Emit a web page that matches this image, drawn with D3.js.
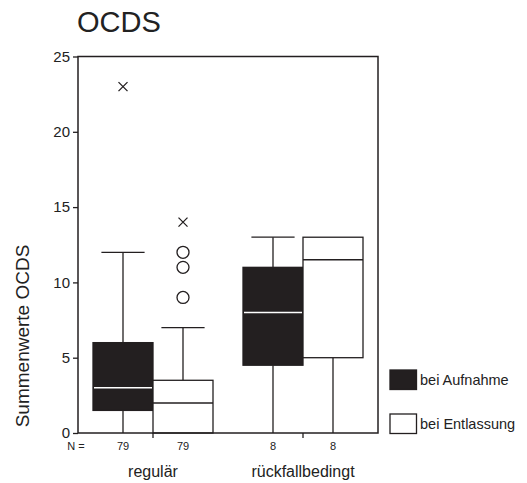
<!DOCTYPE html>
<html>
<head>
<meta charset="utf-8">
<script src="https://cdn.jsdelivr.net/npm/d3@7"></script>
<style>
body { margin: 0; background: #fff; }
text { font-family: "Liberation Sans", Arial, sans-serif; fill: #222; }
</style>
</head>
<body>
<script>
// data
var categories = ["regulär", "rückfallbedingt"];
var series = ["bei Aufnahme", "bei Entlassung"];
var nCounts = [[79, 79], [8, 8]];
// [lower whisker, q1, median, q3, upper whisker] per category
var aufnahmeStats = [[0, 1.5, 3, 6, 12], [0, 4.5, 8, 11, 13]];
var entlassungStats = [[0, 0, 2, 3.5, 7], [0, 5, 11.5, 13, 13]];
var aufnahmeOutliers = [[], []];
var entlassungOutliers = [[9, 11, 12], []];
var aufnahmeExtremes = [[23], []];
var entlassungExtremes = [[14], []];
var yTicks = [0, 5, 10, 15, 20, 25];

var w = 527, h = 483;
// plot edges (note: "top" is reserved on window, so use other names)
var plotLeft = 78, plotRight = 378, plotTop = 56.5, plotBottom = 433;

var svg = d3.select("body").append("svg")
    .attr("width", w)
    .attr("height", h);

// scales
var xScale = d3.scaleBand().domain(categories).range([plotLeft, plotRight]);
var subScale = d3.scaleBand().domain(series).range([0, xScale.bandwidth()])
    .paddingInner(0).paddingOuter(0.25);
var yScale = d3.scaleLinear().domain([0, 25]).range([plotBottom, plotTop]);

var fills = ["#231f20", "#fff"];
var medianColors = ["#fff", "#231f20"];
var stats = [aufnahmeStats, entlassungStats];
var outliers = [aufnahmeOutliers, entlassungOutliers];
var extremes = [aufnahmeExtremes, entlassungExtremes];

// boxes
series.forEach(function(s, si) {
  var g = svg.append("g");
  categories.forEach(function(c, ci) {
    var d = stats[si][ci];
    var x0 = xScale(c) + subScale(s);
    var bw = subScale.bandwidth();
    var cx = x0 + bw / 2;
    var cap = bw * 0.36;
    // whiskers
    g.append("line").attr("x1", cx).attr("x2", cx)
      .attr("y1", yScale(d[3])).attr("y2", yScale(d[4]))
      .attr("stroke", "#231f20").attr("stroke-width", 1.3);
    g.append("line").attr("x1", cx).attr("x2", cx)
      .attr("y1", yScale(d[0])).attr("y2", yScale(d[1]))
      .attr("stroke", "#231f20").attr("stroke-width", 1.3);
    if (d[4] > d[3]) {
      g.append("line").attr("x1", cx - cap).attr("x2", cx + cap)
        .attr("y1", yScale(d[4])).attr("y2", yScale(d[4]))
        .attr("stroke", "#231f20").attr("stroke-width", 1.3);
    }
    // box
    g.append("rect")
      .attr("x", x0).attr("y", yScale(d[3]))
      .attr("width", bw).attr("height", yScale(d[1]) - yScale(d[3]))
      .attr("fill", fills[si]).attr("stroke", "#231f20").attr("stroke-width", 1.3);
    g.append("line")
      .attr("x1", x0 + (si === 0 ? 1 : 0)).attr("x2", x0 + bw - (si === 0 ? 1 : 0))
      .attr("y1", yScale(d[2])).attr("y2", yScale(d[2]))
      .attr("stroke", medianColors[si]).attr("stroke-width", 1.5);
    // outliers
    g.selectAll(null).data(outliers[si][ci]).enter().append("circle")
      .attr("cx", cx).attr("cy", function(v) { return yScale(v); })
      .attr("r", 6).attr("fill", "none")
      .attr("stroke", "#231f20").attr("stroke-width", 1.3);
    // extremes
    extremes[si][ci].forEach(function(v) {
      var y = yScale(v), k = 4.5;
      g.append("path")
        .attr("d", "M" + (cx - k) + "," + (y - k) + "L" + (cx + k) + "," + (y + k) +
                   "M" + (cx - k) + "," + (y + k) + "L" + (cx + k) + "," + (y - k))
        .attr("stroke", "#231f20").attr("stroke-width", 1.3).attr("fill", "none");
    });
    // N counts
    svg.append("text")
      .attr("x", cx).attr("y", 450)
      .attr("text-anchor", "middle")
      .attr("font-size", "11px")
      .text(nCounts[ci][si]);
  });
});

// frame
svg.append("rect")
  .attr("x", plotLeft).attr("y", plotTop)
  .attr("width", plotRight - plotLeft).attr("height", plotBottom - plotTop)
  .attr("fill", "none").attr("stroke", "#231f20").attr("stroke-width", 1.5);

// y axis
var yAxis = d3.axisLeft(yScale).tickValues(yTicks).tickSize(5).tickPadding(3);
var gy = svg.append("g")
  .attr("transform", "translate(" + plotLeft + ",0)")
  .call(yAxis);
gy.select(".domain").remove();
gy.selectAll("line").attr("stroke", "#231f20").attr("stroke-width", 1.3);
gy.selectAll("text").attr("font-size", "15px")
  .attr("font-family", "Liberation Sans, Arial, sans-serif").attr("fill", "#222");

// x axis ticks
var xAxis = d3.axisBottom(xScale).tickSize(5).tickFormat("");
var gx = svg.append("g")
  .attr("transform", "translate(0," + plotBottom + ")")
  .call(xAxis);
gx.select(".domain").remove();
gx.selectAll("line").attr("stroke", "#231f20").attr("stroke-width", 1.3);

// category labels
svg.selectAll(".cat").data(categories).enter().append("text")
  .attr("class", "cat")
  .attr("x", function(d) { return xScale(d) + xScale.bandwidth() / 2; })
  .attr("y", 477)
  .attr("text-anchor", "middle")
  .attr("font-size", "16px")
  .text(function(d) { return d; });

svg.append("text")
  .attr("x", 76).attr("y", 450)
  .attr("text-anchor", "middle")
  .attr("font-size", "11px")
  .text("N =");

// title
svg.append("text")
  .attr("x", 77).attr("y", 32)
  .attr("font-size", "29px")
  .text("OCDS");

// y label
svg.append("text")
  .attr("transform", "translate(29,336) rotate(-90)")
  .attr("text-anchor", "middle")
  .attr("font-size", "19px")
  .text("Summenwerte OCDS");

// legend
var legend = svg.selectAll(".legend").data(series).enter().append("g")
  .attr("class", "legend")
  .attr("transform", function(d, i) { return "translate(390," + (370 + i * 44) + ")"; });
legend.append("rect")
  .attr("width", 26.5).attr("height", 19.5)
  .attr("fill", function(d, i) { return fills[i]; })
  .attr("stroke", "#231f20").attr("stroke-width", 1.3);
legend.append("text")
  .attr("x", 30).attr("y", 15)
  .attr("font-size", "14.5px")
  .text(function(d) { return d; });
</script>
</body>
</html>
